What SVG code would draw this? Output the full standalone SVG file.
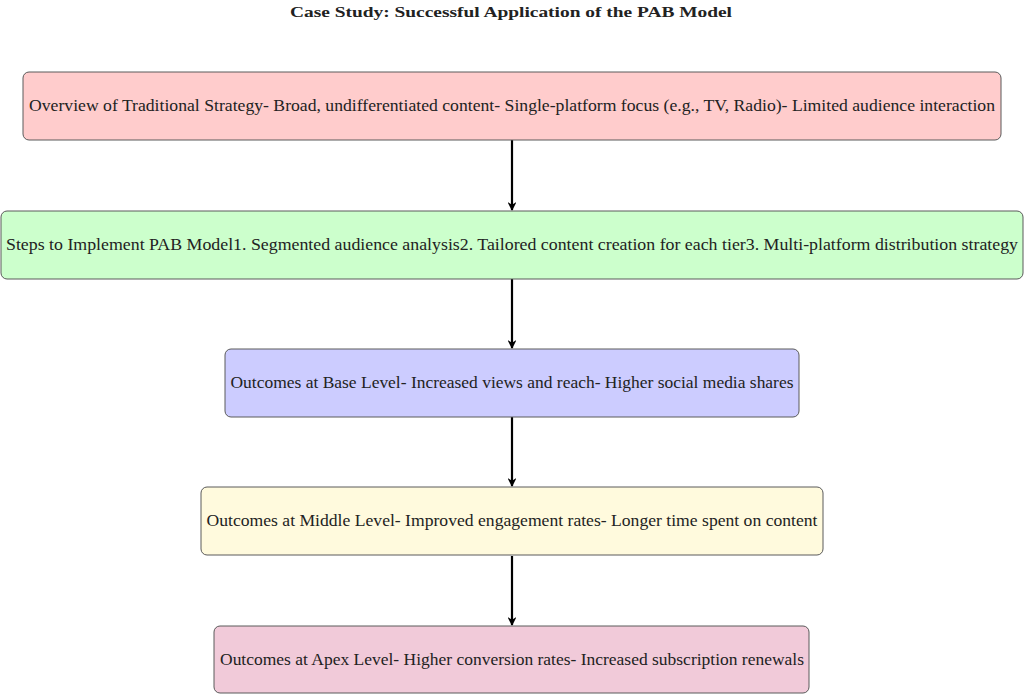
<svg xmlns="http://www.w3.org/2000/svg" width="1024" height="695" viewBox="0 0 1024 695">
<style>
.box{stroke:#5a5a5a;stroke-width:1}
.lbl{font-family:"Liberation Serif","DejaVu Serif",serif;font-size:17px;fill:#222;text-anchor:middle}
.title{font-family:"Liberation Serif","DejaVu Serif",serif;font-size:14px;font-weight:bold;fill:#222;text-anchor:middle}
.conn{stroke:#000;stroke-width:2.2;fill:none}
</style>
<defs>
<marker id="arr" viewBox="0 0 10 10" refX="9" refY="5" markerWidth="4" markerHeight="4" orient="auto" markerUnits="strokeWidth">
<path d="M0,0 L10,5 L0,10 L3,5 Z" fill="#000"/>
</marker>
</defs>
<rect width="1024" height="695" fill="#fff"/>
<text class="title" x="511" y="17" textLength="442" lengthAdjust="spacingAndGlyphs">Case Study: Successful Application of the PAB Model</text>
<g id="connectors">
<line class="conn" x1="512" y1="140" x2="512" y2="210" marker-end="url(#arr)"/>
<line class="conn" x1="512" y1="279" x2="512" y2="348" marker-end="url(#arr)"/>
<line class="conn" x1="512" y1="417" x2="512" y2="486" marker-end="url(#arr)"/>
<line class="conn" x1="512" y1="556" x2="512" y2="625" marker-end="url(#arr)"/>
</g>
<g id="node1">
<rect class="box" x="23" y="72" width="978" height="68" rx="6" fill="#ffcccc"/>
<text class="lbl" x="512" y="111" textLength="966" lengthAdjust="spacingAndGlyphs">Overview of Traditional Strategy- Broad, undifferentiated content- Single-platform focus (e.g., TV, Radio)- Limited audience interaction</text>
</g>
<g id="node2">
<rect class="box" x="1" y="211" width="1022" height="68" rx="6" fill="#ccffcc"/>
<text class="lbl" x="512" y="250" textLength="1012" lengthAdjust="spacingAndGlyphs">Steps to Implement PAB Model1. Segmented audience analysis2. Tailored content creation for each tier3. Multi-platform distribution strategy</text>
</g>
<g id="node3">
<rect class="box" x="225" y="349" width="574" height="68" rx="6" fill="#ccccff"/>
<text class="lbl" x="512" y="388" textLength="563" lengthAdjust="spacingAndGlyphs">Outcomes at Base Level- Increased views and reach- Higher social media shares</text>
</g>
<g id="node4">
<rect class="box" x="201" y="487" width="622" height="68" rx="6" fill="#fffadd"/>
<text class="lbl" x="512" y="526" textLength="611" lengthAdjust="spacingAndGlyphs">Outcomes at Middle Level- Improved engagement rates- Longer time spent on content</text>
</g>
<g id="node5">
<rect class="box" x="214" y="626" width="595" height="67" rx="6" fill="#f1cad9"/>
<text class="lbl" x="512" y="665" textLength="584" lengthAdjust="spacingAndGlyphs">Outcomes at Apex Level- Higher conversion rates- Increased subscription renewals</text>
</g>
</svg>
